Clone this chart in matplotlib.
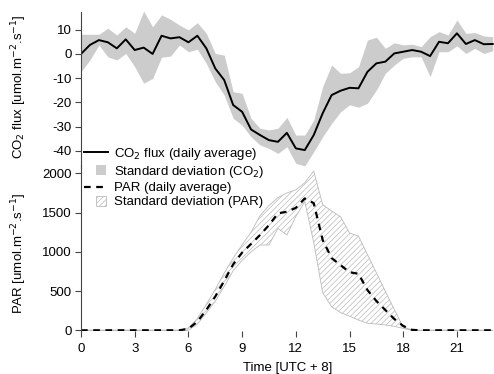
import matplotlib
matplotlib.use("Agg")
import matplotlib.pyplot as plt
import matplotlib.patches as mpatches
from matplotlib.lines import Line2D
from matplotlib.legend_handler import HandlerPatch
import numpy as np

plt.rcParams['font.family'] = ['Liberation Sans', 'DejaVu Sans']
plt.rcParams['axes.unicode_minus'] = False
plt.rcParams['hatch.linewidth'] = 0.5

# half-hourly time axis (hours, UTC+8)
hours = np.arange(0, 23.5, 0.5)

# CO2 flux, daily average and +/- standard deviation band
co2_mean = [0, 3.7, 5.7, 4.8, 2.3, 6.0, 1.6, 2.6, 0, 7.5, 6.4, 6.9, 4.8, 7.5, 2.3, -6.0,
            -10.8, -21.1, -23.9, -31.2, -33.5, -35.6, -36.3, -32.6, -39.0, -39.7, -33.5,
            -24.5, -17.0, -15.2, -14.0, -14.2, -7.4, -3.9, -3.2, 0.2, 0.9, 1.6, 0.9, -0.9,
            5.0, 4.4, 8.5, 4.1, 5.7, 4.0, 4.1]
co2_upper = [8.1, 8.1, 8.1, 10.6, 7.8, 11.2, 8.5, 17.7, 11.2, 16.1, 14.3, 11.9, 9.9, 12.9,
             8.5, 0.2, -0.5, -15.6, -16.3, -26.6, -30.7, -31.4, -30.7, -26.2, -33.5, -33.5,
             -27.3, -13.5, -4.6, -8.0, -7.8, -5.3, 5.7, 6.9, 2.3, 4.6, 3.7, 4.0, 3.0, 7.1,
             9.2, 7.8, 14.0, 8.5, 8.8, 7.4, 7.1]
co2_lower = [-7.4, -2.5, 3.7, -1.2, -2.5, 0.2, -5.3, -12.1, -10.1, -1.4, -0.9, 3.7, 0.9,
             1.9, -3.9, -11.5, -17.0, -26.6, -29.4, -34.2, -37.6, -39.0, -41.1, -38.3,
             -45.2, -46.2, -40.4, -34.2, -28.7, -23.9, -21.0, -22.0, -20.4, -14.9, -8.0,
             -4.6, -1.8, -1.2, -1.2, -9.4, 0.9, 0.9, 3.3, 0.2, 2.3, 0.2, 1.3]

# PAR, daily average and +/- standard deviation band
par_mean = [0] * 12 + [20, 110, 260, 430, 630, 840, 990, 1100, 1214, 1340, 1490, 1510,
                       1560, 1680, 1620, 1150, 920, 830, 740, 720, 513, 373, 258, 144,
                       55, 5] + [0] * 9
par_upper = [0] * 12 + [30, 150, 330, 520, 730, 920, 1090, 1250, 1460, 1590, 1690, 1750,
                        1790, 1880, 2030, 1600, 1520, 1447, 1240, 1200, 966, 732, 498,
                        264, 40, 5] + [0] * 9
par_lower = [0] * 12 + [0, 80, 220, 370, 560, 760, 890, 1000, 1087, 1087, 1300, 1214,
                        1450, 1640, 1120, 480, 300, 225, 180, 130, 90, 80, 68, 50,
                        25, 0] + [0] * 9

fig = plt.figure(figsize=(4.94, 3.74), dpi=100)
W, H = 494, 374
ax1 = fig.add_axes([81 / W, 1 - 168 / H, 413 / W, 156 / H])
ax2 = fig.add_axes([81 / W, 1 - 331 / H, 413 / W, 166 / H])
for ax in (ax1, ax2):
    ax.set_facecolor('none')
    ax.spines['top'].set_visible(False)
    ax.spines['right'].set_visible(False)
    ax.spines['bottom'].set_visible(False)
    ax.spines['left'].set_linewidth(0.8)
    ax.spines['left'].set_color('#444444')
    ax.tick_params(labelsize=9.5, length=4.5, width=0.8, color='#444444', pad=2)
    ax.set_xlim(0, 23.07)

# top panel: CO2 flux
ax1.fill_between(hours, co2_lower, co2_upper, color='#cccccc', lw=0)
ax1.plot(hours, co2_mean, color='black', lw=1.4)
ax1.set_ylim(-47.1, 17.3)
ax1.set_yticks([10, 0, -10, -20, -30, -40])
ax1.set_xticks([])
ax1.set_ylabel('CO$_2$ flux [umol.m$^{-2}$.s$^{-1}$]', fontsize=9.5)
ax1.yaxis.set_label_coords(-0.125, 0.52)

# bottom panel: PAR
ax2.fill_between(hours, par_lower, par_upper, facecolor='white', edgecolor='#bbbbbb',
                 hatch='//////', lw=0.6)
ax2.plot(hours, par_mean, color='black', lw=1.6, ls=(0, (3, 2.5)))
ax2.set_ylim(-9, 2106)
ax2.set_yticks([0, 500, 1000, 1500, 2000])
ax2.set_xticks(np.arange(0, 22, 3))
ax2.tick_params(axis='x', pad=4)
ax2.set_xlabel('Time [UTC + 8]', fontsize=9.5, labelpad=5)
ax2.set_ylabel('PAR [umol.m$^{-2}$.s$^{-1}$]', fontsize=9.5)
ax2.yaxis.set_label_coords(-0.125, 0.47)


def small_square(legend, orig_handle, xdescent, ydescent, width, height, fontsize):
    s = height * 1.1
    return mpatches.Rectangle((-xdescent + width - s - 1, -ydescent + (height - s) / 2), s, s)


handles = [
    Line2D([], [], color='black', lw=1.4),
    mpatches.Patch(facecolor='#cccccc', edgecolor='none'),
    Line2D([], [], color='black', lw=1.6, ls=(0, (3, 2.5))),
    mpatches.Patch(facecolor='white', edgecolor='#bbbbbb', hatch='//////', lw=0.6),
]
labels = ['CO$_2$ flux (daily average)', 'Standard deviation (CO$_2$)',
          'PAR (daily average)', 'Standard deviation (PAR)']
fig.legend(handles, labels, loc='upper left', bbox_to_anchor=(84 / W, 1 - 146 / H),
           frameon=False, fontsize=9.5, borderpad=0, borderaxespad=0, handlelength=1.8,
           handletextpad=0.5, labelspacing=0.15,
           handler_map={mpatches.Patch: HandlerPatch(patch_func=small_square)})

fig.savefig('out.png', dpi=100)
